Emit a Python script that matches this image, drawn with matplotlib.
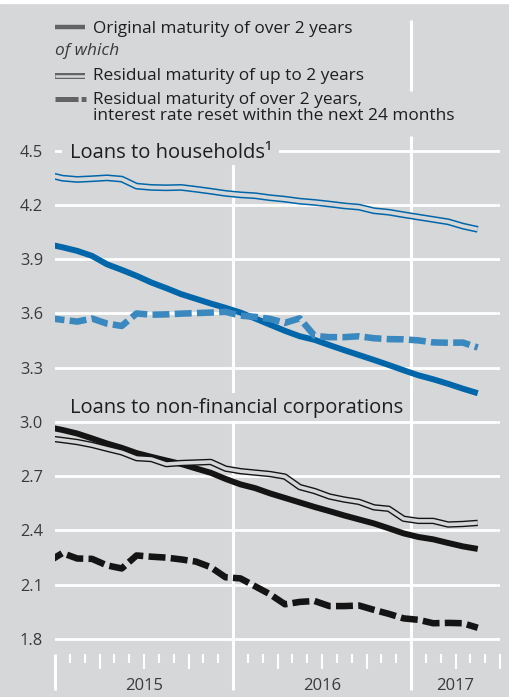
import matplotlib
matplotlib.use('Agg')
import matplotlib.pyplot as plt
from matplotlib.patches import Rectangle
import pandas as pd

# monthly observations, Dec 2014 .. May 2017 (plotted mid-month)
months = pd.period_range('2014-12', '2017-05', freq='M')

hh_original = [3.984, 3.966, 3.946, 3.918, 3.872, 3.841, 3.808, 3.771, 3.740, 3.707,
               3.681, 3.655, 3.631, 3.605, 3.572, 3.538, 3.504, 3.474, 3.454, 3.425,
               3.397, 3.370, 3.343, 3.315, 3.286, 3.258, 3.236, 3.211, 3.184, 3.159]
hh_short = [4.368, 4.348, 4.341, 4.345, 4.350, 4.343, 4.304, 4.297, 4.295, 4.297,
            4.287, 4.276, 4.264, 4.256, 4.251, 4.240, 4.232, 4.221, 4.214, 4.205,
            4.195, 4.188, 4.168, 4.160, 4.146, 4.133, 4.120, 4.107, 4.083, 4.065]
hh_reset = [3.575, 3.565, 3.555, 3.572, 3.544, 3.531, 3.600, 3.593, 3.595, 3.599,
            3.602, 3.605, 3.609, 3.588, 3.581, 3.570, 3.548, 3.573, 3.476, 3.469,
            3.469, 3.474, 3.463, 3.458, 3.457, 3.451, 3.440, 3.438, 3.439, 3.412]

corp_original = [2.972, 2.956, 2.936, 2.909, 2.881, 2.857, 2.828, 2.807, 2.787, 2.768,
                 2.743, 2.719, 2.685, 2.655, 2.634, 2.605, 2.580, 2.555, 2.530, 2.507,
                 2.483, 2.461, 2.439, 2.412, 2.384, 2.364, 2.351, 2.331, 2.312, 2.298]
corp_short = [2.910, 2.900, 2.889, 2.873, 2.852, 2.832, 2.800, 2.795, 2.767, 2.773,
              2.776, 2.779, 2.742, 2.728, 2.720, 2.712, 2.698, 2.640, 2.618, 2.588,
              2.571, 2.558, 2.528, 2.520, 2.465, 2.453, 2.453, 2.433, 2.436, 2.442]
corp_reset = [2.225, 2.275, 2.245, 2.243, 2.207, 2.190, 2.262, 2.255, 2.250, 2.240,
              2.228, 2.197, 2.141, 2.135, 2.091, 2.047, 1.992, 2.005, 2.010, 1.982,
              1.982, 1.985, 1.961, 1.939, 1.914, 1.906, 1.887, 1.889, 1.887, 1.862]

yticks = [1.8, 2.1, 2.4, 2.7, 3.0, 3.3, 3.6, 3.9, 4.2, 4.5]
years = [2015, 2016, 2017]
panel_titles = ['Loans to households\u00b9', 'Loans to non-financial corporations']
legend_labels = ['Original maturity of over 2 years', 'of which',
                 'Residual maturity of up to 2 years',
                 'Residual maturity of over 2 years,',
                 'interest rate reset within the next 24 months']

BG = '#d6d7d9'
BLUE = '#0066aa'
LBLUE = '#3a88c0'
BLACK = '#141414'
GREY = '#636363'
TXT = '#1e1e1e'

plt.rcParams['font.family'] = ['Open Sans', 'DejaVu Sans']
plt.rcParams['lines.scale_dashes'] = False

x = [(p.year - 2015) * 12 + p.month - 1 + 0.5 for p in months]

fig = plt.figure(figsize=(5.1, 6.97), dpi=100, facecolor=BG)
fig.patches.append(Rectangle((0, 1 - 3 / 697), 1, 3 / 697, transform=fig.transFigure,
                             color='white', zorder=0))

ax = fig.add_axes([55 / 510, 43 / 697, 445 / 510, 634 / 697])
ax.set_facecolor('none')
for s in ax.spines.values():
    s.set_visible(False)
ymin, ymax = 1.717, 5.2227
ax.set_xlim(0, 30)
ax.set_ylim(ymin, ymax)

ax.set_yticks(yticks)
ax.set_yticklabels([f'{v:.1f}' for v in yticks])
ax.tick_params(axis='y', length=0, pad=8.6, labelsize=11.8, labelcolor='#3a3a3a')
ax.yaxis.grid(True, color='white', lw=2.0)
ax.set_axisbelow(True)

major = [m for m in range(3, 31, 3) if m % 12]
minor = [m for m in range(1, 31) if m % 3]
ax.set_xticks(major)
ax.set_xticks(minor, minor=True)
ax.tick_params(axis='x', which='major', length=10.8, width=1.5, color='white', labelbottom=False)
ax.tick_params(axis='x', which='minor', length=6.5, width=1.5, color='white')

# year separators
ylow = ymin - 36 / 180.85
for xv, y0, y1 in [(0, ylow, ymin), (12, ylow, 4.5), (24, ylow, 4.58), (24, 4.83, ymax)]:
    ax.plot([xv, xv], [y0, y1], color='white', lw=2.2, clip_on=False, zorder=1,
            solid_capstyle='butt')
for i, yr in enumerate(years):
    xc = 6 + 12 * i if yr < 2017 else 27
    ax.text(xc, -0.05, str(yr), transform=ax.get_xaxis_transform(), ha='center',
            va='center', fontsize=12, color='#3a3a3a')

# households
ax.plot(x, hh_original, color=BLUE, lw=4.3, solid_capstyle='butt', zorder=3)
ax.plot(x, hh_short, color=BLUE, lw=4.9, solid_capstyle='butt', zorder=4)
ax.plot(x, hh_short, color=BG, lw=2.7, solid_capstyle='butt', zorder=4.1)
ax.plot(x, hh_reset, color=LBLUE, lw=4.7, dashes=(12.2, 3.8), dash_capstyle='butt', zorder=5)

# non-financial corporations
ax.plot(x, corp_original, color=BLACK, lw=4.3, solid_capstyle='butt', zorder=3)
ax.plot(x, corp_short, color=BLACK, lw=4.6, solid_capstyle='butt', zorder=4)
ax.plot(x, corp_short, color=BG, lw=2.6, solid_capstyle='butt', zorder=4.1)
ax.plot(x, corp_reset, color=BLACK, lw=4.7, dashes=(12.2, 3.8), dash_capstyle='butt', zorder=5)

# overlay in pixel units for titles and legend
lay = fig.add_axes([0, 0, 1, 1], zorder=5)
lay.set_xlim(0, 510)
lay.set_ylim(697, 0)
lay.axis('off')

t1 = lay.text(70, 158.3, panel_titles[0], fontsize=14.5, va='baseline', color=TXT, zorder=3)
t2 = lay.text(70, 413, panel_titles[1], fontsize=14.5, va='baseline', color=TXT, zorder=3)

# background patches behind the panel titles (hide grid / year lines there)
fig.canvas.draw()
rend = fig.canvas.get_renderer()
for t, top, bottom in [(t1, 136, 165), (t2, 393, 421)]:
    bb = t.get_window_extent(rend)
    right = lay.transData.inverted().transform((bb.x1, bb.y1))[0]
    lay.add_patch(Rectangle((62, top), right + 7 - 62, bottom - top, fc=BG, ec='none', zorder=2))

lay.plot([55, 85], [27, 27], color=GREY, lw=3.2, solid_capstyle='butt')
lay.text(93, 33, legend_labels[0], fontsize=12.4, va='baseline', color=TXT)
lay.text(55, 55, legend_labels[1], fontsize=12.4, va='baseline', color='#3a3a3a', style='italic')
lay.plot([55, 85], [75.5, 75.5], color=GREY, lw=4.3, solid_capstyle='butt')
lay.plot([55, 85], [75.5, 75.5], color=BG, lw=1.8, solid_capstyle='butt')
lay.text(93, 80, legend_labels[2], fontsize=12.4, va='baseline', color=TXT)
lay.plot([55, 86], [99, 99], color=GREY, lw=3.6, dashes=(16.6, 2.2, 3.6, 10),
         dash_capstyle='butt')
lay.text(93, 104, legend_labels[3], fontsize=12.4, va='baseline', color=TXT)
lay.text(93, 120, legend_labels[4], fontsize=12.4, va='baseline', color=TXT)

fig.savefig('out.png', dpi=100, facecolor=BG)
